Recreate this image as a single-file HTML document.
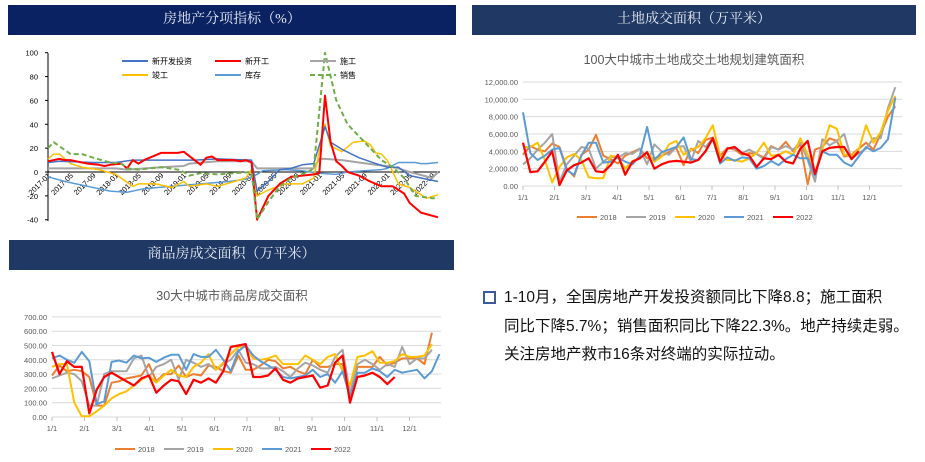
<!DOCTYPE html>
<html><head><meta charset="utf-8"><style>
body{margin:0;width:925px;height:462px;background:#fff;overflow:hidden;font-family:"Liberation Sans","Noto Sans CJK SC",sans-serif;position:relative}
.bar{position:absolute;color:#e8ecf4;font-size:14px;text-align:center;font-family:"Liberation Serif","Noto Serif CJK SC",serif}
svg{position:absolute;left:0;top:0}
.txt{position:absolute;left:504px;top:284px;font-size:15.5px;line-height:28.5px;color:#111;width:430px;white-space:nowrap;font-family:"Liberation Sans","Noto Sans CJK SC",sans-serif}
.sq{position:absolute;left:483px;top:291px;width:9px;height:9px;border:2px solid #3c5aa0}
</style></head><body>
<div class="bar" style="left:8px;top:5px;width:448px;height:30px;line-height:30px;background:#0b2262">房地产分项指标（%）</div>
<div class="bar" style="left:472px;top:5px;width:444px;height:30px;line-height:30px;background:#1f3864">土地成交面积（万平米）</div>
<div class="bar" style="left:9px;top:240px;width:445px;height:30px;line-height:30px;background:#1f3864">商品房成交面积（万平米）</div>
<div class="sq"></div>
<div class="txt">1-10月，全国房地产开发投资额同比下降8.8；施工面积<br>同比下降5.7%；销售面积同比下降22.3%。地产持续走弱。<br>关注房地产救市16条对终端的实际拉动。</div>
<svg id="s" width="925" height="462" xmlns="http://www.w3.org/2000/svg" font-family="Liberation Sans, Noto Sans CJK SC, sans-serif"></svg>
<script>
var S=document.getElementById('s'),h='';
function pl(pts,c,w,d){h+='<polyline fill="none" stroke="'+c+'" stroke-width="'+w+'"'+(d?' stroke-dasharray="'+d+'"':'')+' stroke-linejoin="round" points="'+pts.map(function(p){return p[0].toFixed(1)+','+p[1].toFixed(1)}).join(' ')+'"/>';}
function t(x,y,s,sz,c,a,extra){h+='<text x="'+x+'" y="'+y+'" font-size="'+sz+'" fill="'+c+'"'+(a?' text-anchor="'+a+'"':'')+(extra||'')+'>'+s+'</text>';}
var X1=function(i){return 48+i*390/69},Y1=function(v){return 172-v*1.193};
h+='<line x1="48" y1="53" x2="48" y2="221" stroke="#000" stroke-width="1"/>';
for(var v=-40;v<=100;v+=20){t(38,Y1(v)+3,v,7.5,'#000','end');h+='<line x1="45" x2="48" y1="'+Y1(v)+'" y2="'+Y1(v)+'" stroke="#000"/>';}
h+='<line x1="48" x2="440" y1="172" y2="172" stroke="#000"/>';
var labs=['2017-01','2017-05','2017-09','2018-01','2018-05','2018-09','2019-01','2019-05','2019-09','2020-01','2020-05','2020-09','2021-01','2021-05','2021-09','2022-01','2022-05','2022-09'];
labs.forEach(function(l,k){var x=X1(k*4);t(x+3,176,l,7.5,'#000','end',' transform="rotate(-45 '+(x+3)+' 176)"');});
function s1(a,c,w,d){pl(a.map(function(p){return [X1(p[0]),Y1(p[1])]}),c,w,d);}
s1([[0,3],[12,3],[14,2],[20,4],[24,5],[25,7],[30,9],[36,9],[37,3],[47,3],[48,11],[49,11],[52,10],[55,8],[58,6],[60,5],[62,3],[64,0],[68,-5],[69,0]],'#a5a5a5',2);
s1([[0,-4],[3,-8],[7,-12],[11,-16],[14,-17],[17,-14],[22,-12],[27,-10],[32,-8],[35,-6],[37,-2],[38,1],[42,2],[45,1],[48,-1],[51,-2],[53,0],[56,1],[59,2],[60,3],[62,8],[65,8],[66,7],[67,7],[69,8]],'#5b9bd5',1.5);
s1([[0,11],[1,15],[2,15],[4,7],[6,4],[9,2],[12,-2],[15,-12],[16,-10],[19,-10],[22,-13],[24,-8],[25,-12],[28,-10],[30,-12],[33,-8],[35,-5],[36,2],[37,-20],[39,-15],[42,-10],[45,-10],[47,-5],[49,40],[50,22],[52,17],[54,25],[56,26],[57,23],[58,16],[59,15],[60,10],[61,0],[62,-10],[64,-13],[67,-22],[69,-19]],'#ffc000',1.5);
s1([[0,8],[2,9],[8,8],[12,8],[15,10],[20,10],[26,10],[30,11],[36,10],[37,-16],[39,-8],[41,2],[43,3],[45,6],[47,7],[49,38],[50,25],[52,19],[55,12],[58,7],[60,4],[62,4],[64,-3],[66,-5],[69,-8]],'#4472c4',1.5);
s1([[0,9],[2,11],[3,10],[4,10],[5,9],[7,7],[9,6],[10,5],[11,6],[13,7],[14,3],[15,10],[16,7],[17,10],[18,12],[19,14],[20,16],[23,16],[24,17],[27,6],[28,12],[29,13],[30,10],[33,10],[34,9],[35,10],[36,8],[37,-40],[39,-20],[41,-10],[43,-4],[45,-3],[47,-2],[48,-1],[49,64],[50,25],[51,9],[52,5],[53,0],[55,-3],[57,-8],[59,-12],[61,-12],[63,-18],[64,-26],[66,-34],[69,-38]],'#ff0000',2);
s1([[0,20],[1,25],[4,15],[6,15],[8,12],[11,8],[13,7],[14,3],[16,2],[18,3],[20,4],[23,2],[24,0],[25,-3],[27,-1],[30,-2],[33,-1],[36,0],[37,-40],[39,-25],[41,-12],[43,-5],[46,0],[47,3],[49,100],[51,60],[53,40],[55,30],[57,20],[59,10],[61,4],[63,-5],[65,-20],[68,-22],[69,-22]],'#70ad47',2,'5,3');
[[122,61,'#4472c4','新开发投资',0],[215,61,'#ff0000','新开工',0],[310,61,'#a5a5a5','施工',0],[122,75,'#ffc000','竣工',0],[215,75,'#5b9bd5','库存',0],[310,75,'#70ad47','销售',1]].forEach(function(L){h+='<line x1="'+L[0]+'" x2="'+(L[0]+26)+'" y1="'+L[1]+'" y2="'+L[1]+'" stroke="'+L[2]+'" stroke-width="2"'+(L[4]?' stroke-dasharray="5,3"':'')+'/>';t(L[0]+30,L[1]+3,L[3],8,'#000');});
function wk(o){
 t(o.cx,o.ty,o.title,12.5,'#595959','middle');
 for(var g=0;g<=o.max;g+=o.step){var y=o.y0-g*o.sc;h+='<line x1="'+o.x0+'" x2="'+o.x1+'" y1="'+y+'" y2="'+y+'" stroke="#d9d9d9"/>';t(o.x0-5,y+3,o.fmt(g),7.5,'#595959','end');}
 var ms=['1/1','2/1','3/1','4/1','5/1','6/1','7/1','8/1','9/1','10/1','11/1','12/1'];
 ms.forEach(function(m,k){var x=o.x0+k*o.mw;t(x,o.y0+14,m,7.5,'#595959','middle');h+='<line x1="'+x+'" x2="'+x+'" y1="'+o.y0+'" y2="'+(o.y0+4)+'" stroke="#bfbfbf"/>';});
 var cols=['#ed7d31','#a5a5a5','#ffc000','#5b9bd5','#ff0000'];
 o.data.forEach(function(d,k){pl(d.map(function(v,i){return [o.x0+i*o.ww,o.y0-v*o.sc]}),cols[k],k==4?2.2:2);});
 ['2018','2019','2020','2021','2022'].forEach(function(n,k){var x=o.lx+k*49;h+='<line x1="'+x+'" x2="'+(x+20)+'" y1="'+o.ly+'" y2="'+o.ly+'" stroke="'+cols[k]+'" stroke-width="2"/>';t(x+23,o.ly+3,n,7.5,'#595959');});
}
wk({cx:694,ty:64,title:'100大中城市土地成交土地规划建筑面积',x0:523,x1:902,y0:186,sc:8.67,max:12,step:2,mw:31.5,ww:7.3,lx:577,ly:217,
fmt:function(g){return g===0?'0.00':(g*1000).toLocaleString('en-US')+'.00'},
data:[[3.6,4.6,4.2,4,4.9,4.5,2,1.1,3.6,4.2,5.9,3.5,3.1,2.6,3.5,3.9,4.3,3.2,3.2,3.5,3.9,4.4,2.4,4.3,3.8,5.3,5.6,3.5,4.4,4.2,3.6,3.8,3.7,3.3,4.6,4.2,5.1,4,4.8,0.2,4.2,4.5,5.5,5.2,3.4,3.6,4.3,5,4.2,6,8,9.2],
[2.5,3.2,4.2,5,6,0.5,2.5,3.5,4.5,4.3,2,2.8,3.4,3.2,3.8,3.7,4.3,2.5,4.8,4,3.6,4.5,4.6,2.8,5.2,4.5,5.5,2.7,4.4,4.3,3.8,4.2,3.7,3.1,4.5,4.2,4.6,4.2,5,3,0.5,5.4,4.7,5.2,6,3.1,3.8,4.3,5.5,5.5,9,11.4],
[4.5,4.5,5,3,0.4,2.2,3.3,3.7,3,1,0.9,0.9,3.5,3.3,2,2.9,3.2,3.9,2.8,3.4,4.8,5.2,3.6,4.2,4.5,5.5,7,3.5,3,3,2.8,3.2,3.8,5,3.5,3.6,4,3.6,5.5,3.6,1.5,4.2,7,6.6,3.6,3.5,4.2,7,5,6.2,8.7,10.4],
[8.5,3.8,3,3.5,4.2,4.4,1.8,1.3,3.5,5,5,2.7,2.8,3.3,2.8,2.5,3.5,6.8,3,3.9,4.2,4.5,5.6,3.1,3,4,5.5,2.6,3.3,2.9,3.3,3.2,2,2.3,2.9,2.4,3.1,3.6,3.2,3.2,1.2,4,3.6,3.6,2.7,2.3,3.4,4.5,4,4.4,5.4,10.2],
[5,1.6,1.7,2.8,4,0.1,1.8,2.4,2.7,3.2,1.7,1.6,2.4,3.6,1.3,2.8,3.2,3.9,2,2.5,2.8,2.9,2.8,2.7,3,4,5.5,2.8,4.3,4.5,3.8,3.5,2.2,3.2,3.1,3.6,2.8,2.6,4.3,5.2,1.4,4,4.4,4.5,4.5,3.1,4]]});
wk({cx:232,ty:300,title:'30大中城市商品房成交面积',x0:52,x1:441,y0:417,sc:14.3,max:7,step:1,mw:32.5,ww:7.45,lx:115,ly:449,
fmt:function(g){return g===0?'0.00':(g*100)+'.00'},
data:[[2.9,3.6,3.2,3.3,3.2,2.8,0.8,0.8,2.4,2.5,2.7,2.8,2.9,3.7,2.5,3,3,3.6,2.8,3,2.9,3.6,3.5,3.2,3.1,4.3,3.3,3.3,3.6,4,3.9,3.4,3.5,3.2,3,4,3.5,3.5,3.7,3.7,1.3,3.5,3.5,3.5,4.2,3.6,3.8,4.1,4.1,4.1,3.7,5.9],
[2.7,2.9,3.1,3,2.5,0.8,0.8,3,3.2,3.2,3.2,4.1,4.3,2.8,3.5,3.7,4,2.6,4,3.8,3.5,3.7,3.3,3.7,4,4.7,3.8,3.7,3.4,3.4,3.5,3.2,2.8,3.4,3.8,3.6,3.3,3.1,4.2,4.7,1.7,3.7,4,3.7,3.3,3.7,3.5,4.9,3.7,4.1,4.1,4.7],
[3.5,3.7,3.7,1,0.05,0.05,0.4,0.8,1.3,1.6,1.8,2.2,2.6,2.9,2.4,2.9,3.3,2.9,2.8,3.5,3.8,4.4,3.3,3.8,4.4,4.9,4.9,4.1,4,4.1,4.3,3.7,3.7,3.7,4.3,4,3.7,4.2,4.4,3.2,2.2,4.2,4.3,4.6,3.8,3.8,3.9,4.4,4.2,4.2,4.3,5.1],
[4.1,4.3,4,3.8,4.55,3.9,0.9,1.1,3.85,3.95,3.8,4.3,4.1,4.15,3.85,4.15,4.35,4.35,3.3,4.4,4.2,4.2,4.7,4,3.2,4.6,5,4.3,3.9,3.6,3.3,2.8,2.7,2.8,2.9,3.3,2.8,3,2.4,3.2,1.4,3.1,3.1,3.4,3.2,2.8,3.3,3.1,3.2,3.3,2.7,3.2,4.4],
[4.55,3,3.9,3.5,3.5,0.25,1.9,2.8,3.1,2.8,2.5,2.2,2.7,2.9,1.7,2.2,2.6,2.5,1.6,2.6,2.4,2.7,2.4,3.2,4.9,5,5.1,2.8,2.8,2.9,3.4,2.6,2.4,2.7,2.8,2.9,2.05,2.2,3.8,4.3,1,2.8,2.9,3.1,2.8,2.3,2.8]]});
S.innerHTML=h;
</script>
</body></html>
